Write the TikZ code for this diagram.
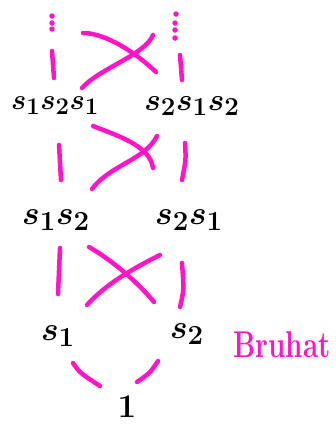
\documentclass[tikz,border=0pt]{standalone}
\usepackage{graphicx}
\definecolor{pink}{RGB}{255,20,200}
\newcommand{\bigtext}[2][1.33]{\scalebox{#1}{\Huge\boldmath #2}}
\tikzset{
  mark line/.style={draw=pink, line width=4.5pt, line cap=round, line join=round},
  dotmark/.style={fill=pink, circle, inner sep=0pt, minimum size=5.5pt},
  elem/.style={inner sep=0pt},
}
\begin{document}
\begin{tikzpicture}[x=1pt,y=-1pt]
\useasboundingbox (0,0) rectangle (336,424);
% elements
\node[elem] (w0)  at (55,106) {\bigtext[1.15]{$s_1s_2s_1$}};
\node[elem] (w0p) at (192,106) {\bigtext[1.25]{$s_2s_1s_2$}};
\node[elem] (a)   at (56,220) {\bigtext{$s_1s_2$}};
\node[elem] (b)   at (189,220) {\bigtext{$s_2s_1$}};
\node[elem] (c)   at (58,336) {\bigtext{$s_1$}};
\node[elem] (d)   at (187,334) {\bigtext{$s_2$}};
\node[elem] (e)   at (127,407) {\bigtext{$1$}};
\node[text=pink, anchor=west, inner sep=0pt] (lab) at (233,345) {\scalebox{1.12}[1.5]{\Huge\bfseries Bruhat}};
% dots above
\node[dotmark] (d1) at (52,16) {};
\node[dotmark] (d2) at (52,23) {};
\node[dotmark] (d3) at (52,29) {};
\node[dotmark] (d4) at (176,14) {};
\node[dotmark] (d5) at (175,23) {};
\node[dotmark] (d6) at (175,30) {};
\node[dotmark] (d7) at (175,38) {};
% top level strokes
\coordinate (t1) at (52,51); \coordinate (t2) at (54,78);
\coordinate (t3) at (180,55); \coordinate (t4) at (182,80);
\draw[mark line] (t1) -- (t2);
\draw[mark line] (t3) -- (t4);
\coordinate (x1) at (83,33); \coordinate (x2) at (156,72);
\coordinate (x3) at (82,88); \coordinate (x4) at (153,35);
\draw[mark line] (x1) .. controls (105,33) and (135,52) .. (x2);
\draw[mark line] (x3) .. controls (100,68) and (145,55) .. (x4);
% level 3 to 2
\coordinate (p1) at (59,145); \coordinate (p2) at (61,180);
\coordinate (p3) at (185,143); \coordinate (p4) at (182,180);
\draw[mark line] (p1) -- (p2);
\draw[mark line] (p3) .. controls (186,160) .. (p4);
\coordinate (q1) at (93,126); \coordinate (q2) at (153,168);
\coordinate (q3) at (92,189); \coordinate (q4) at (157,136);
\draw[mark line] (q1) .. controls (115,135) and (150,145) .. (q2);
\draw[mark line] (q3) .. controls (110,165) and (145,160) .. (q4);
% level 2 to 1
\coordinate (r1) at (60,248); \coordinate (r2) at (58,294);
\coordinate (r3) at (182,263); \coordinate (r4) at (180,307);
\draw[mark line] (r1) -- (r2);
\draw[mark line] (r3) .. controls (184,290) .. (r4);
\coordinate (u1) at (89,247); \coordinate (u2) at (154,302);
\coordinate (u3) at (160,255); \coordinate (u4) at (87,305);
\draw[mark line] (u1) .. controls (115,262) and (140,285) .. (u2);
\draw[mark line] (u3) .. controls (130,270) and (105,285) .. (u4);
% bottom
\coordinate (v1) at (73,363); \coordinate (v2) at (100,386);
\coordinate (v3) at (158,361); \coordinate (v4) at (137,382);
\draw[mark line] (v1) .. controls (80,373) .. (v2);
\draw[mark line] (v3) .. controls (150,373) .. (v4);
\end{tikzpicture}
\end{document}
